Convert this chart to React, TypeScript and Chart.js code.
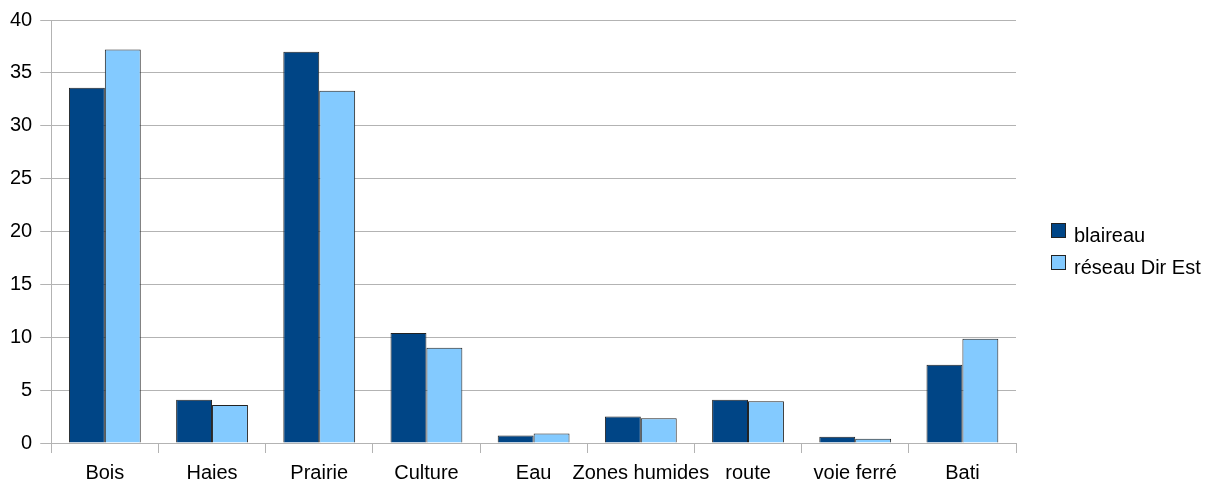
import React, { useEffect, useRef } from "react";
import { Chart, registerables } from "chart.js";

Chart.register(...registerables);

const categories = ["Bois", "Haies", "Prairie", "Culture", "Eau", "Zones humides", "route", "voie ferré", "Bati"];
const blaireau = [33.6, 4.1, 37.0, 10.4, 0.7, 2.5, 4.1, 0.6, 7.4];
const reseauDirEst = [37.2, 3.6, 33.3, 9.0, 0.9, 2.35, 3.95, 0.4, 9.85];
const seriesLabels = ["blaireau", "réseau Dir Est"];
const seriesColors = ["#004586", "#83caff"];

const FONT = "'Liberation Sans', Arial, sans-serif";
const GRID = "#b3b3b3";

const legendPlugin = {
  id: "customLegend",
  afterDraw(chart: any) {
    const ctx = chart.ctx;
    ctx.save();
    chart.data.datasets.forEach((ds: any, i: number) => {
      const y = 223 + i * 32;
      ctx.fillStyle = ds.backgroundColor;
      ctx.fillRect(1051, y, 15, 15);
      ctx.strokeStyle = "#222";
      ctx.lineWidth = 1;
      ctx.strokeRect(1051.5, y + 0.5, 14, 14);
      ctx.fillStyle = "#000";
      ctx.font = `20px ${FONT}`;
      ctx.textBaseline = "alphabetic";
      ctx.textAlign = "left";
      ctx.fillText(ds.label, 1074, y + 18.5);
    });
    ctx.restore();
  },
};

export default function App() {
  const ref = useRef<HTMLCanvasElement>(null);
  useEffect(() => {
    document.body.style.margin = "0";
    const chart = new Chart(ref.current!, {
      type: "bar",
      data: {
        labels: categories,
        datasets: [
          {
            label: seriesLabels[0],
            data: blaireau,
            backgroundColor: seriesColors[0],
            borderColor: "#222",
            borderWidth: 1,
          },
          {
            label: seriesLabels[1],
            data: reseauDirEst,
            backgroundColor: seriesColors[1],
            borderColor: "#222",
            borderWidth: 1,
          },
        ],
      },
      options: {
        responsive: false,
        animation: false,
        layout: { padding: { left: 2, right: 203, top: 8, bottom: -11 } },
        datasets: { bar: { categoryPercentage: 0.67, barPercentage: 1 } },
        plugins: {
          legend: { display: false },
          tooltip: { enabled: false },
        },
        scales: {
          x: {
            grid: {
              offset: true,
              drawOnChartArea: true,
              color: (c: any) => (c.index === 0 || c.index === categories.length ? GRID : "rgba(0,0,0,0)"),
              tickColor: GRID,
              tickLength: 10,
            },
            border: { display: true, color: GRID },
            ticks: {
              color: "#000",
              font: { family: FONT, size: 20 },
              padding: 8,
              maxRotation: 0,
              autoSkip: false,
            },
          },
          y: {
            min: 0,
            max: 40,
            grid: { color: GRID, tickColor: GRID, tickLength: 11 },
            border: { display: true, color: GRID },
            ticks: {
              stepSize: 5,
              color: "#000",
              font: { family: FONT, size: 20 },
              padding: 8,
            },
          },
        },
      },
      plugins: [legendPlugin],
    });
    return () => chart.destroy();
  }, []);
  return (
    <div style={{ width: 1219, height: 482 }}>
      <canvas ref={ref} width={1219} height={482} />
    </div>
  );
}
